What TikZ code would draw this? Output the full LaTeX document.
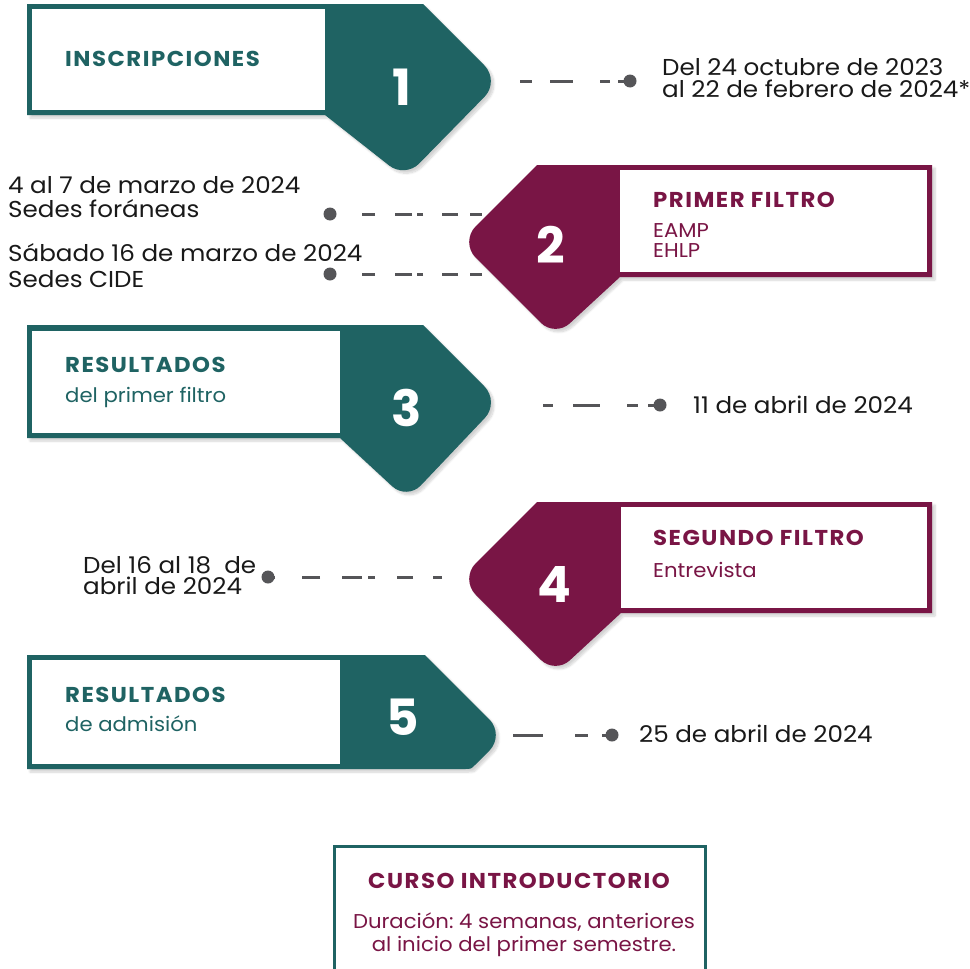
\documentclass[tikz,border=0pt]{standalone}
\usepackage{fontspec}
\setmainfont{Poppins}
\frenchspacing
\usetikzlibrary{calc,shadows.blur}
\definecolor{tealc}{RGB}{31,99,99}
\definecolor{magc}{RGB}{121,21,69}
\definecolor{txtc}{RGB}{25,25,25}
\definecolor{dashc}{RGB}{85,85,88}
\tikzset{
  datetxt/.style={anchor=base west, inner sep=0, text=txtc, align=left, font=\fontsize{23}{19}\selectfont\addfontfeature{FakeStretch=1.07}},
  ttl/.style={anchor=base west, inner sep=0, font=\fontsize{21.5}{24}\selectfont\bfseries\addfontfeature{FakeStretch=1.06,LetterSpace=7}},
  subt/.style={anchor=base west, inner sep=0, align=left, font=\fontsize{20}{20}\selectfont\addfontfeature{FakeStretch=1.06}},
  num/.style={text=white, inner sep=0, font=\fontsize{50}{50}\selectfont\bfseries},
  dotn/.style={circle, fill=dashc, minimum size=13pt, inner sep=0},
  conn/.style={draw=dashc, line width=3pt},
  shp/.style={blur shadow={shadow xshift=3pt, shadow yshift=-3pt, shadow opacity=18, shadow blur steps=8}},
}
\begin{document}
\begin{tikzpicture}[x=1pt,y=-1pt]
\useasboundingbox (0,0) rectangle (969,969);
% ---------- block 1 (teal) ----------
\coordinate (T1) at (423,4); \coordinate (R1) at (500,81); \coordinate (B1) at (405,178); \coordinate (J1) at (325,115);
\fill[tealc,shp] (27,4) -- (T1) -- ($(R1)!22pt!(T1)$) .. controls ($(R1)!10pt!(T1)$) and ($(R1)!10pt!(B1)$) .. ($(R1)!22pt!(B1)$)
  -- ($(B1)!20pt!(R1)$) .. controls ($(B1)!9pt!(R1)$) and ($(B1)!9pt!(J1)$) .. ($(B1)!20pt!(J1)$) -- (J1) -- (27,115) -- cycle;
\fill[white] (32,9) rectangle (325,110);
\node[ttl, text=tealc] (t1) at (65,66) {INSCRIPCIONES};
\node[num] (n1) at (402,87) {1};
% ---------- block 2 (magenta) ----------
\coordinate (T2) at (537,165); \coordinate (L2) at (460,242); \coordinate (B2) at (555,337); \coordinate (J2) at (620,277);
\fill[magc,shp] (932,165) -- (T2) -- ($(L2)!22pt!(T2)$) .. controls ($(L2)!10pt!(T2)$) and ($(L2)!10pt!(B2)$) .. ($(L2)!22pt!(B2)$)
  -- ($(B2)!20pt!(L2)$) .. controls ($(B2)!9pt!(L2)$) and ($(B2)!9pt!(J2)$) .. ($(B2)!20pt!(J2)$) -- (J2) -- (932,277) -- cycle;
\fill[white] (620,170) rectangle (927,272);
\node[ttl, text=magc] (t2) at (653,207) {PRIMER FILTRO};
\node[subt, text=magc] (s2) at (653,257) {EAMP\\EHLP};
\node[num] (n2) at (551,245) {2};
% ---------- block 3 (teal) ----------
\coordinate (T3) at (423,325); \coordinate (R3) at (500,402); \coordinate (B3) at (407,500); \coordinate (J3) at (340,438);
\fill[tealc,shp] (27,325) -- (T3) -- ($(R3)!22pt!(T3)$) .. controls ($(R3)!10pt!(T3)$) and ($(R3)!10pt!(B3)$) .. ($(R3)!22pt!(B3)$)
  -- ($(B3)!20pt!(R3)$) .. controls ($(B3)!9pt!(R3)$) and ($(B3)!9pt!(J3)$) .. ($(B3)!20pt!(J3)$) -- (J3) -- (27,438) -- cycle;
\fill[white] (32,331) rectangle (340,433);
\node[ttl, text=tealc] (t3) at (65,372) {RESULTADOS};
\node[subt, text=tealc] (s3) at (65,402) {del primer filtro};
\node[num] (n3) at (407,408) {3};
% ---------- block 4 (magenta) ----------
\coordinate (T4) at (537,502); \coordinate (L4) at (460,579); \coordinate (B4) at (555,674); \coordinate (J4) at (621,613);
\fill[magc,shp] (932,502) -- (T4) -- ($(L4)!22pt!(T4)$) .. controls ($(L4)!10pt!(T4)$) and ($(L4)!10pt!(B4)$) .. ($(L4)!22pt!(B4)$)
  -- ($(B4)!20pt!(L4)$) .. controls ($(B4)!9pt!(L4)$) and ($(B4)!9pt!(J4)$) .. ($(B4)!20pt!(J4)$) -- (J4) -- (932,613) -- cycle;
\fill[white] (621,507) rectangle (927,608);
\node[ttl, text=magc] (t4) at (653,545) {SEGUNDO FILTRO};
\node[subt, text=magc] (s4) at (653,577) {Entrevista};
\node[num] (n4) at (554,584) {4};
% ---------- block 5 (teal) ----------
\coordinate (T5) at (425,655); \coordinate (R5) at (505,735); \coordinate (B5) at (471,769);
\fill[tealc,shp] (27,655) -- (T5) -- ($(R5)!22pt!(T5)$) .. controls ($(R5)!10pt!(T5)$) and ($(R5)!10pt!(B5)$) .. ($(R5)!22pt!(B5)$)
  -- ($(B5)!6pt!(R5)$) .. controls (B5) .. ($(B5)+(-6,0)$) -- (27,769) -- cycle;
\fill[white] (32,660) rectangle (340,764);
\node[ttl, text=tealc] (t5) at (65,702) {RESULTADOS};
\node[subt, text=tealc] (s5) at (65,731) {de admisión};
\node[num] (n5) at (403,717) {5};
% ---------- dates and connectors ----------
\node[datetxt, font=\fontsize{23}{22}\selectfont\addfontfeature{FakeStretch=1.07}] (d1) at (662,97) {Del 24 octubre de 2023\\al 22 de febrero de 2024*};
\node[dotn] (p1) at (630,81) {};
\coordinate (c1) at (520,81);
\draw[conn, dash pattern=on 12pt off 18pt on 23pt off 27pt on 10pt off 8pt on 30pt] (c1) -- (p1.center);

\node[datetxt, font=\fontsize{23}{24}\selectfont\addfontfeature{FakeStretch=1.07}] (d2a) at (8,217) {4 al 7 de marzo de 2024\\Sedes foráneas};
\node[datetxt, font=\fontsize{23}{26}\selectfont\addfontfeature{FakeStretch=1.07}] (d2b) at (8,287) {Sábado 16 de marzo de 2024\\Sedes CIDE};
\node[dotn] (p2a) at (330,214) {};
\node[dotn] (p2b) at (330,274) {};
\coordinate (c2a) at (482,214);
\coordinate (c2b) at (482,274);
\draw[conn, dash pattern=on 12pt off 12pt on 16pt off 19pt on 6pt off 5pt on 17pt off 20pt on 13pt off 40pt] (c2a) -- (p2a.center);
\draw[conn, dash pattern=on 12pt off 12pt on 16pt off 19pt on 6pt off 5pt on 17pt off 20pt on 13pt off 40pt] (c2b) -- (p2b.center);

\node[datetxt] (d3) at (693,413) {11 de abril de 2024};
\node[dotn] (p3) at (660,405) {};
\coordinate (c3) at (543,405);
\draw[conn, dash pattern=on 10pt off 20pt on 27pt off 27pt on 11pt off 10pt on 20pt] (c3) -- (p3.center);

\node[datetxt, font=\fontsize{23}{21}\selectfont\addfontfeature{FakeStretch=1.07}] (d4) at (83,594) {Del 16 al 18\ \ de\\abril de 2024};
\node[dotn] (p4) at (268,577) {};
\coordinate (c4) at (442,577);
\draw[conn, dash pattern=on 9pt off 20pt on 16pt off 22pt on 7pt off 6pt on 20pt off 22pt on 18pt off 27pt on 10pt] (c4) -- (p4.center);

\node[datetxt] (d5) at (639,742) {25 de abril de 2024};
\node[dotn] (p5) at (612,735) {};
\coordinate (c5) at (513,735);
\draw[conn, dash pattern=on 30pt off 32pt on 13pt off 14pt on 20pt] (c5) -- (p5.center);
% ---------- course box ----------
\draw[tealc, line width=3pt] (334.5,846.5) rectangle (705.5,985);
\node[ttl, anchor=base, text=magc] (ct) at (519,888) {CURSO INTRODUCTORIO};
\node[subt, anchor=base, align=center, text=magc, font=\fontsize{20}{23}\selectfont\addfontfeature{FakeStretch=1.06}] (cs) at (524,951) {Duración: 4 semanas, anteriores\\al inicio del primer semestre.};
\end{tikzpicture}
\end{document}
